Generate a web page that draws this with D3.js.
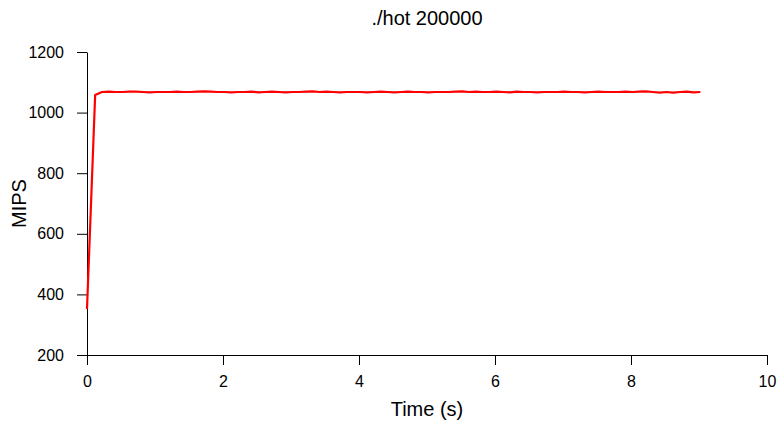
<!DOCTYPE html>
<html>
<head>
<meta charset="utf-8">
<script src="https://cdn.jsdelivr.net/npm/d3@7"></script>
<style>
  body { margin: 0; background: #fff; }
  svg text { font-family: "Liberation Sans", Arial, sans-serif; fill: #000; }
  .axis path, .axis line { stroke: #000; stroke-width: 1; }
</style>
</head>
<body>
<div id="chart"></div>
<script>
var title = "./hot 200000";
var xLabel = "Time (s)";
var yLabel = "MIPS";
var xTicks = [0, 2, 4, 6, 8, 10];
var yTicks = [200, 400, 600, 800, 1000, 1200];

var times = [0, 0.12,
    0.22, 0.32, 0.42, 0.52, 0.62, 0.72, 0.82, 0.92, 1.02, 1.12,
    1.22, 1.32, 1.42, 1.52, 1.62, 1.72, 1.82, 1.92, 2.02, 2.12,
    2.22, 2.32, 2.42, 2.52, 2.62, 2.72, 2.82, 2.92, 3.02, 3.12,
    3.22, 3.32, 3.42, 3.52, 3.62, 3.72, 3.82, 3.92, 4.02, 4.12,
    4.22, 4.32, 4.42, 4.52, 4.62, 4.72, 4.82, 4.92, 5.02, 5.12,
    5.22, 5.32, 5.42, 5.52, 5.62, 5.72, 5.82, 5.92, 6.02, 6.12,
    6.22, 6.32, 6.42, 6.52, 6.62, 6.72, 6.82, 6.92, 7.02, 7.12,
    7.22, 7.32, 7.42, 7.52, 7.62, 7.72, 7.82, 7.92, 8.02, 8.12,
    8.22, 8.32, 8.42, 8.52, 8.62, 8.72, 8.82, 8.92, 9.02];

var mips = [352, 1058,
    1068, 1069, 1068, 1068, 1069, 1069, 1068, 1067, 1068, 1068,
    1068, 1069, 1068, 1068, 1069, 1070, 1069, 1068, 1068, 1067,
    1068, 1068, 1069, 1067, 1068, 1069, 1068, 1067, 1068, 1068,
    1069, 1070, 1068, 1069, 1068, 1067, 1068, 1068, 1068, 1067,
    1068, 1069, 1068, 1067, 1068, 1069, 1068, 1068, 1067, 1068,
    1068, 1068, 1069, 1070, 1068, 1069, 1068, 1068, 1069, 1068,
    1067, 1069, 1068, 1068, 1067, 1068, 1068, 1068, 1069, 1068,
    1068, 1067, 1068, 1069, 1068, 1068, 1068, 1069, 1068, 1069,
    1070, 1068, 1066, 1068, 1066, 1068, 1069, 1067, 1068];

var W = 778, H = 427;
var plotLeft = 87, plotRight = 767, plotTop = 52, plotBottom = 355;

var x = d3.scaleLinear().domain([0, 10]).range([plotLeft, plotRight]);
var y = d3.scaleLinear().domain([200, 1200]).range([plotBottom, plotTop]);

var svg = d3.select("#chart").append("svg")
    .attr("width", W)
    .attr("height", H);

// y axis
var yAxis = d3.axisLeft(y).tickValues(yTicks).tickFormat(d3.format("d"))
    .tickSize(10).tickPadding(13).tickSizeOuter(0);
svg.append("g")
    .attr("class", "axis")
    .attr("transform", "translate(" + plotLeft + ",0)")
    .call(yAxis)
    .selectAll("text")
    .style("font-size", "16px");

// x axis
var xAxis = d3.axisBottom(x).tickValues(xTicks).tickFormat(d3.format("d"))
    .tickSize(10).tickPadding(11).tickSizeOuter(0);
svg.append("g")
    .attr("class", "axis")
    .attr("transform", "translate(0," + plotBottom + ")")
    .call(xAxis)
    .selectAll("text")
    .style("font-size", "16px");

svg.selectAll(".axis .domain").attr("fill", "none");

// line
var line = d3.line()
    .x(function(d, i) { return x(times[i]); })
    .y(function(d) { return y(d); });

svg.append("path")
    .datum(mips)
    .attr("fill", "none")
    .attr("stroke", "#ff0000")
    .attr("stroke-width", 2.2)
    .attr("stroke-linejoin", "round")
    .attr("d", line);

// title and labels
svg.append("text")
    .attr("x", (plotLeft + plotRight) / 2)
    .attr("y", 25)
    .attr("text-anchor", "middle")
    .style("font-size", "20px")
    .text(title);

svg.append("text")
    .attr("x", (plotLeft + plotRight) / 2)
    .attr("y", 416)
    .attr("text-anchor", "middle")
    .style("font-size", "20px")
    .text(xLabel);

svg.append("text")
    .attr("transform", "translate(26," + ((plotTop + plotBottom) / 2) + ") rotate(-90)")
    .attr("text-anchor", "middle")
    .style("font-size", "20px")
    .text(yLabel);
</script>
</body>
</html>
